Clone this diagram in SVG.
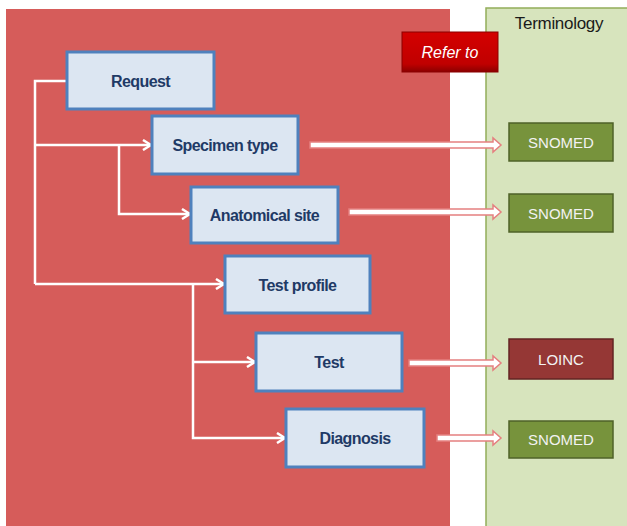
<svg xmlns="http://www.w3.org/2000/svg" width="627" height="526" viewBox="0 0 627 526">
<defs>
<style>
.node rect{fill:#dce6f2;stroke:#4f81bd;stroke-width:3}
.node text{font-family:"Liberation Sans",Arial,sans-serif;font-weight:bold;font-size:16px;fill:#1f3a66;text-anchor:middle;letter-spacing:-0.6px}
.term rect{stroke-width:1.5}
.sn rect{fill:#77933c;stroke:#4f6228}
.lo rect{fill:#953735;stroke:#632523}
.term text{font-family:"Liberation Sans",Arial,sans-serif;font-size:15px;fill:#f2f2f2;text-anchor:middle}
.conn{fill:none;stroke:#ffffff;stroke-width:2.5}
.blk{fill:#ffffff;stroke:#e58080;stroke-width:1.5;stroke-linejoin:miter}
</style>
<marker id="chev" viewBox="0 0 12 12" refX="11" refY="6" markerWidth="12" markerHeight="12" markerUnits="userSpaceOnUse" orient="auto">
<path d="M3,1 L11,6 L3,11" fill="none" stroke="#ffffff" stroke-width="2.5"/>
</marker>
<linearGradient id="rg" x1="0" y1="0" x2="0" y2="1">
<stop offset="0" stop-color="#d40000"/>
<stop offset="0.8" stop-color="#c00000"/>
<stop offset="1" stop-color="#8a0000"/>
</linearGradient>
</defs>
<rect x="0" y="0" width="627" height="526" fill="#ffffff"/>
<rect id="panel-left" x="6" y="9" width="444" height="520" fill="#d65c5a"/>
<rect id="panel-right" x="486" y="8" width="145" height="522" fill="#d7e4bd" stroke="#93ad5a" stroke-width="1.5"/>
<text x="559" y="29" font-family="'Liberation Sans',Arial,sans-serif" font-size="17" fill="#1a1a1a" text-anchor="middle" letter-spacing="-0.3">Terminology</text>
<g id="refer-to">
<rect x="402" y="32" width="96" height="40" fill="url(#rg)" stroke="#8a0000" stroke-width="1"/>
<text x="450" y="58" font-family="'Liberation Sans',Arial,sans-serif" font-style="italic" font-size="16" fill="#ffffff" text-anchor="middle">Refer to</text>
</g>
<g id="connectors">
<path class="conn" d="M67,81 H35 V284"/>
<path class="conn" d="M35,145 H151" marker-end="url(#chev)"/>
<path class="conn" d="M119,145 V214 H190" marker-end="url(#chev)"/>
<path class="conn" d="M35,284 H224" marker-end="url(#chev)"/>
<path class="conn" d="M193,284 V438 H285" marker-end="url(#chev)"/>
<path class="conn" d="M193,362 H255" marker-end="url(#chev)"/>
<path class="blk" d="M310,142 H493 V138 L501,145 L493,152 V148 H310 Z"/>
<path class="blk" d="M349,209 H493 V205 L501,212 L493,219 V215 H349 Z"/>
<path class="blk" d="M409,360 H493 V356 L501,363 L493,370 V366 H409 Z"/>
<path class="blk" d="M437,435 H493 V431 L501,438 L493,445 V441 H437 Z"/>
</g>
<g id="request" class="node"><rect x="67" y="52" width="147" height="57"/><text x="140.5" y="87">Request</text></g>
<g id="specimen-type" class="node"><rect x="152" y="116" width="146" height="58"/><text x="225" y="151">Specimen type</text></g>
<g id="anatomical-site" class="node"><rect x="191" y="187" width="147" height="56"/><text x="264.5" y="221">Anatomical site</text></g>
<g id="test-profile" class="node"><rect x="225" y="256" width="145" height="57"/><text x="297.5" y="291">Test profile</text></g>
<g id="test" class="node"><rect x="256" y="333" width="146" height="58"/><text x="329" y="368">Test</text></g>
<g id="diagnosis" class="node"><rect x="286" y="409" width="138" height="58"/><text x="355" y="444">Diagnosis</text></g>
<g id="snomed-1" class="term sn"><rect x="509" y="123" width="104" height="38"/><text x="561" y="148">SNOMED</text></g>
<g id="snomed-2" class="term sn"><rect x="509" y="194" width="104" height="38"/><text x="561" y="219">SNOMED</text></g>
<g id="loinc" class="term lo"><rect x="509" y="339" width="104" height="40"/><text x="561" y="365">LOINC</text></g>
<g id="snomed-3" class="term sn"><rect x="509" y="421" width="104" height="37"/><text x="561" y="445">SNOMED</text></g>
</svg>
